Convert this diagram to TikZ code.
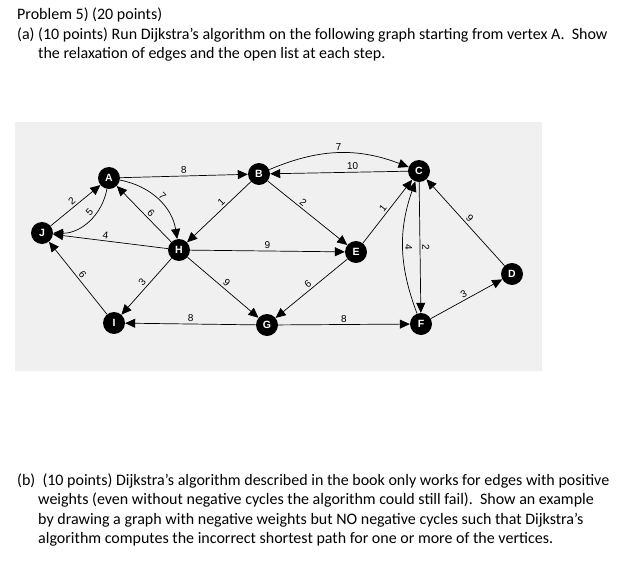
\documentclass[tikz,border=0pt]{standalone}
\usepackage{fontspec}
\setmainfont{Carlito}
\newfontfamily\gfont{Liberation Sans}
\usetikzlibrary{arrows.meta}
\begin{document}
\begin{tikzpicture}[x=1pt,y=-1pt,
  vtx/.style={circle,fill=black,minimum size=22pt,inner sep=0pt,text=white,font=\gfont\bfseries\fontsize{10.5}{10.5}\selectfont},
  edge/.style={-{Triangle[length=10pt,width=9pt]},line width=0.7pt},
  wl/.style={font=\gfont\fontsize{10}{10}\selectfont,sloped,above,inner sep=2pt},
  txt/.style={anchor=west,inner sep=0pt,font=\fontsize{16}{18}\selectfont}]
\useasboundingbox (0,0) rectangle (630,568);
\fill[white] (0,0) rectangle (630,568);
\fill[black!6] (15,122) rectangle (542,371);
\node[txt] (t1) at (17,15) {Problem 5) (20 points)};
\node[txt] (t2) at (17,35) {(a) (10 points) Run Dijkstra’s algorithm on the following graph starting from vertex A.\ \ Show};
\node[txt] (t3) at (38,54) {the relaxation of edges and the open list at each step.};
\node[txt] (t4) at (17,481) {(b)\ \ (10 points) Dijkstra’s algorithm described in the book only works for edges with positive};
\node[txt] (t5) at (38,500) {weights (even without negative cycles the algorithm could still fail).\ \ Show an example};
\node[txt] (t6) at (38,520) {by drawing a graph with negative weights but NO negative cycles such that Dijkstra’s};
\node[txt] (t7) at (38,539) {algorithm computes the incorrect shortest path for one or more of the vertices.};
\node[vtx] (J) at (42,233) {J};
\node[vtx] (A) at (109,178) {A};
\node[vtx] (B) at (259,174) {B};
\node[vtx] (C) at (419,171) {C};
\node[vtx] (H) at (179,250) {H};
\node[vtx] (E) at (356,252) {E};
\node[vtx] (D) at (512,274) {D};
\node[vtx] (I) at (114,323) {I};
\node[vtx] (G) at (267,325) {G};
\node[vtx] (F) at (421,324) {F};
\draw[edge] (A) -- node[wl]{8} (B);
\draw[edge] (C) -- node[wl,pos=0.4]{10} (B);
\draw[edge] (B) to[bend left=22] node[wl]{7} (C);
\draw[edge] (J) -- node[wl]{2} (A);
\draw[edge] (A) to[bend left=40] node[wl,pos=0.4]{5} (J);
\draw[edge] (A) to[bend left=35] node[wl]{7} (H);
\draw[edge] (H) -- node[wl,pos=0.45]{6} (A);
\draw[edge] (H) -- node[wl,pos=0.55]{4} (J);
\draw[edge] (I) -- node[wl]{6} (J);
\draw[edge] (B) -- node[wl,pos=0.4]{1} (H);
\draw[edge] (B) -- node[wl,pos=0.4]{2} (E);
\draw[edge] (H) -- node[wl]{9} (E);
\draw[edge] (H) -- node[wl]{3} (I);
\draw[edge] (H) -- node[wl]{9} (G);
\draw[edge] (E) -- node[wl]{6} (G);
\draw[edge] (G) -- node[wl]{8} (I);
\draw[edge] (G) -- node[wl]{8} (F);
\draw[edge] (E) -- node[wl]{1} (C);
\draw[edge] (C) -- node[wl]{2} (F);
\draw[edge] (F) to[bend left=20] node[wl]{4} (C);
\draw[edge] (F) -- node[wl]{3} (D);
\draw[edge] (D) -- node[wl]{9} (C);
\end{tikzpicture}
\end{document}
